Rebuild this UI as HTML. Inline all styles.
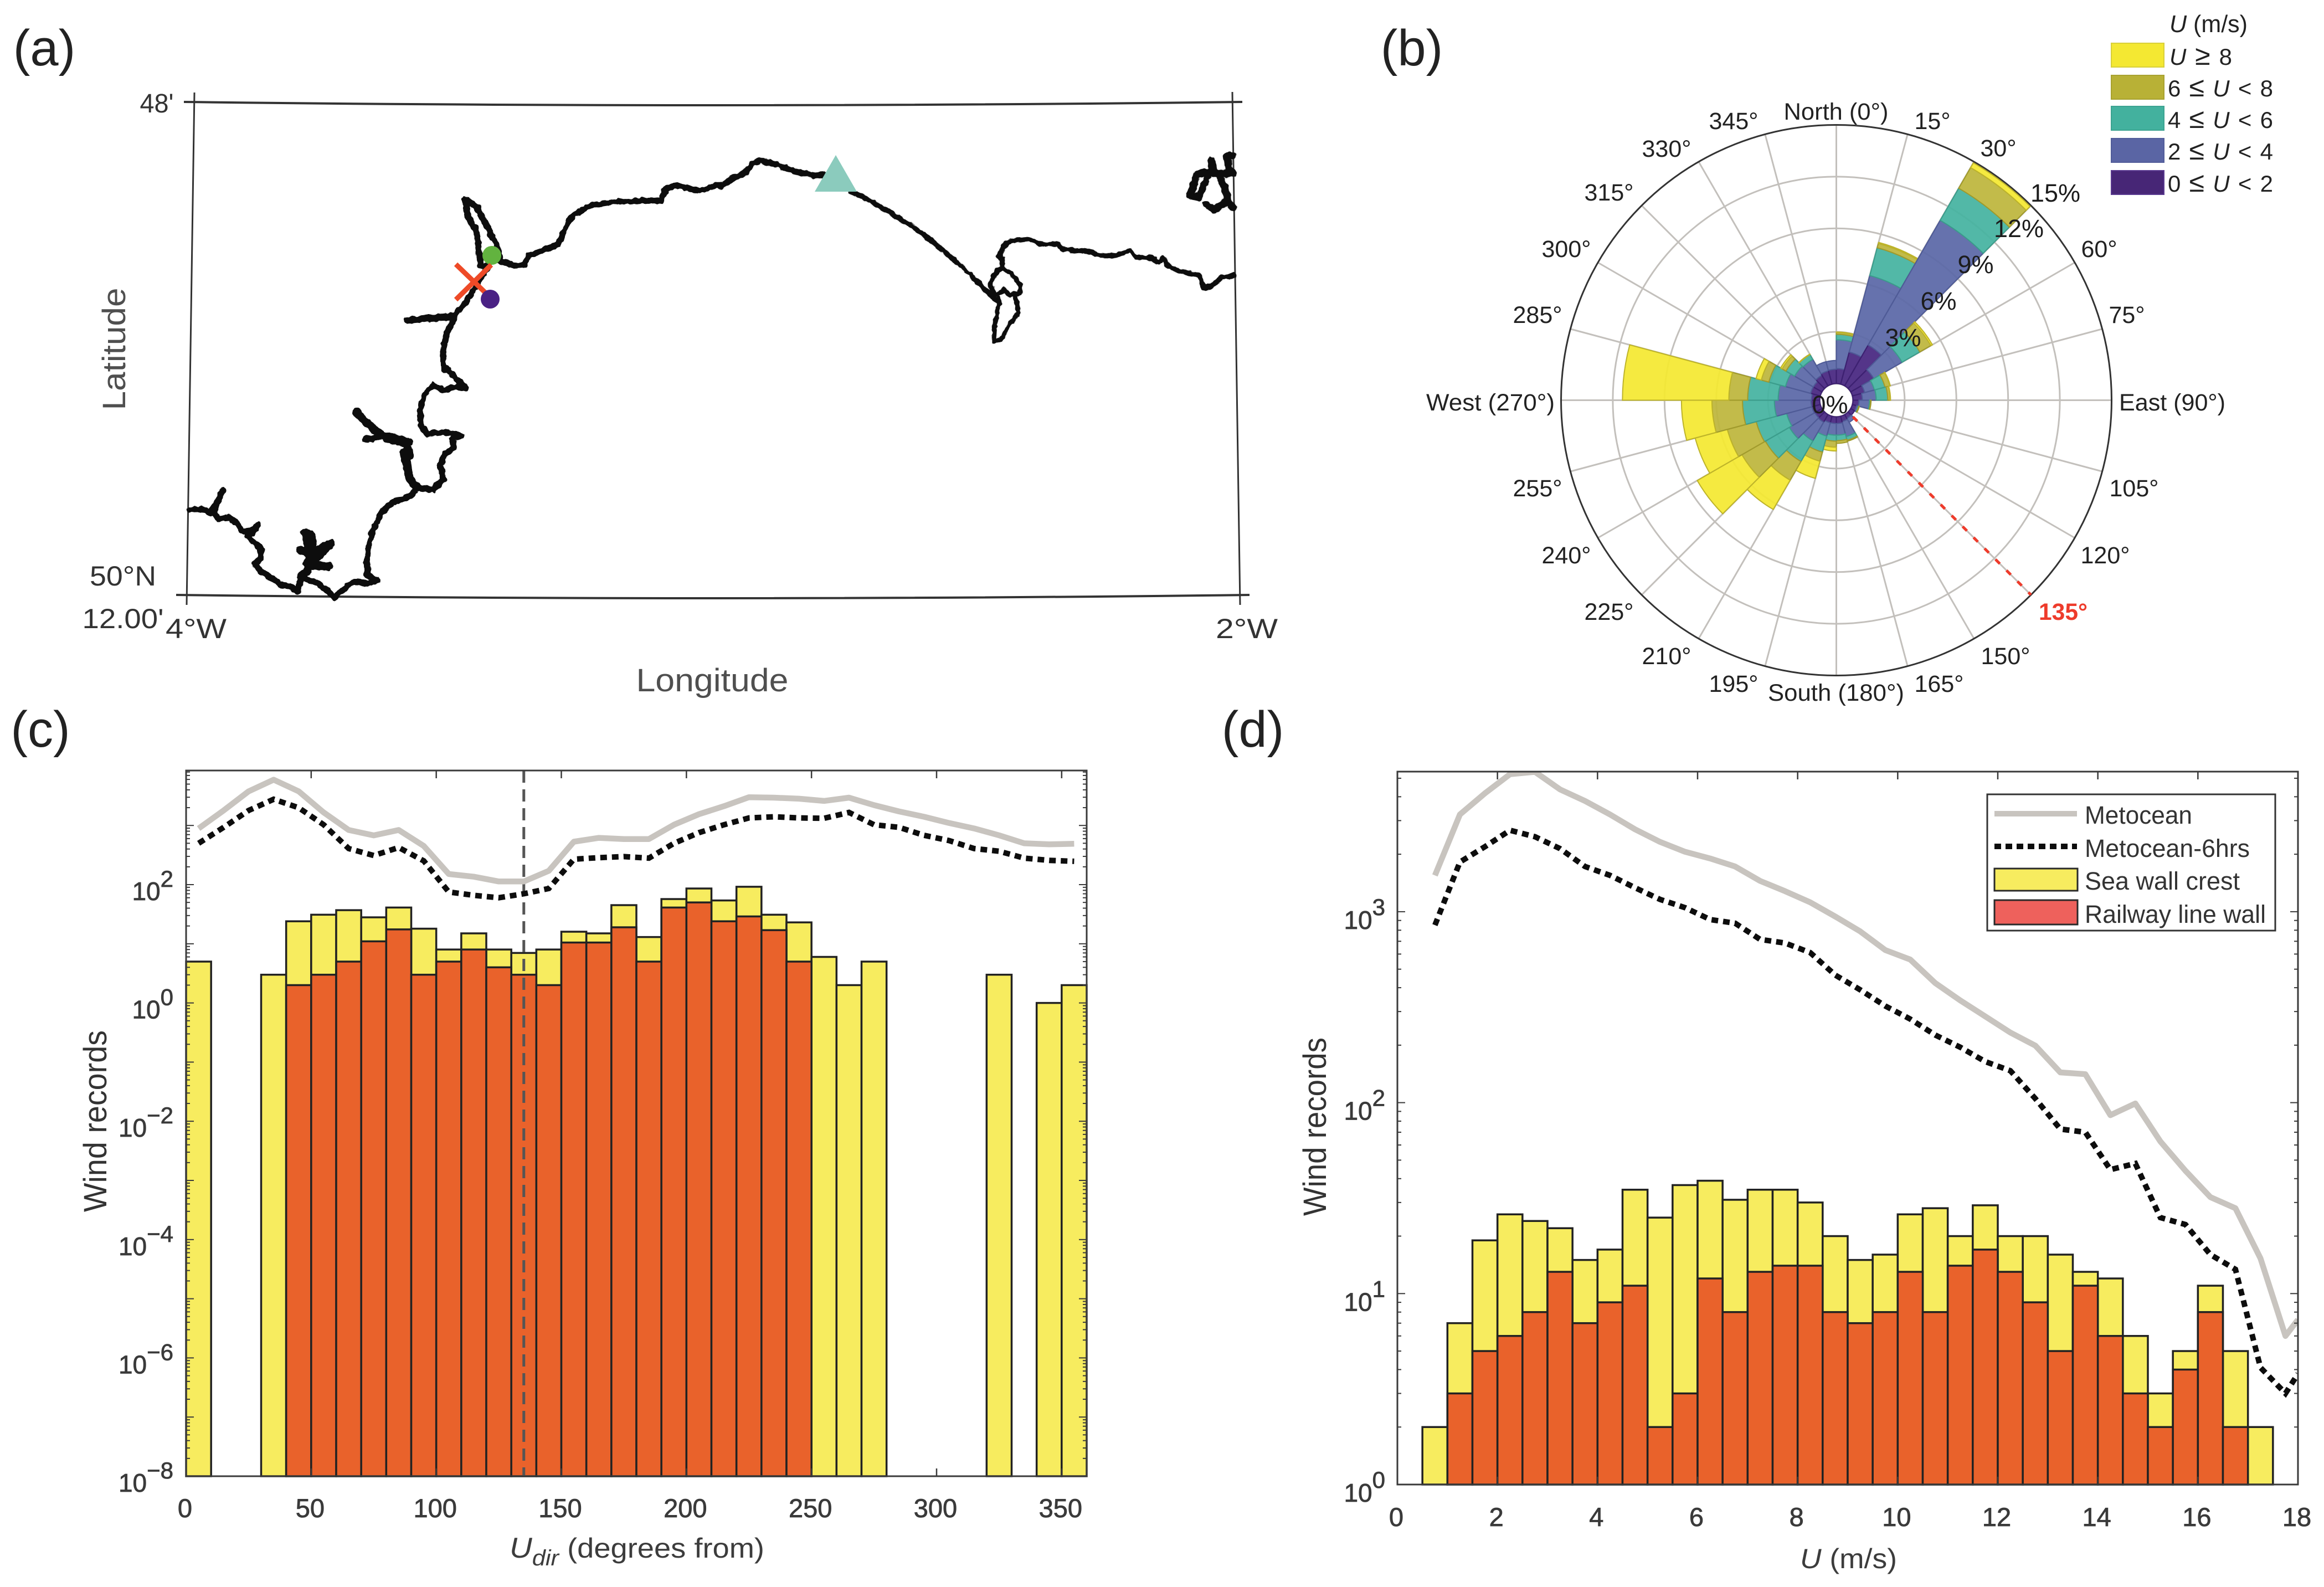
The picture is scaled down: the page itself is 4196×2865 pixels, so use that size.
<!DOCTYPE html>
<html lang="en">
<head>
<meta charset="utf-8">
<title>Wind records: map, wind rose and histograms</title>
<style>
html,body{margin:0;padding:0;background:#fff;}
svg{display:block;}
text{font-family:"Liberation Sans",Arial,sans-serif;}
</style>
</head>
<body>
<svg id="fig" xmlns="http://www.w3.org/2000/svg" width="4196" height="2865" viewBox="0 0 4196 2865">
<defs>
  <filter id="rough" filterUnits="userSpaceOnUse" x="0" y="0" width="4196" height="1200">
    <feTurbulence type="fractalNoise" baseFrequency="0.09" numOctaves="2" seed="4" result="n"/>
    <feDisplacementMap in="SourceGraphic" in2="n" scale="7" xChannelSelector="R" yChannelSelector="G"/>
  </filter>
</defs>
<rect x="0" y="0" width="4196" height="2865" fill="#fff"/>

<!-- panel letters -->
<text x="80" y="118" font-size="92" text-anchor="middle" fill="#222">(a)</text>
<text x="2549" y="118" font-size="92" text-anchor="middle" fill="#222">(b)</text>
<text x="73" y="1348" font-size="92" text-anchor="middle" fill="#222">(c)</text>
<text x="2262" y="1348" font-size="92" text-anchor="middle" fill="#222">(d)</text>

<!-- PANEL A: map -->
<g>
  <g fill="none" stroke="#333" stroke-width="3">
    <path d="M332 184 Q1290 196 2243 184" stroke-width="4"/>
    <path d="M318 1074 Q1290 1086 2256 1074" stroke-width="4"/>
    <path d="M351 167 L337 1092"/>
    <path d="M2225 166 L2239 1092"/>
  </g>
  <g filter="url(#rough)">
  <g transform="translate(300,150) scale(0.6378,0.606)" fill="none" stroke="#111" stroke-linejoin="round" stroke-linecap="round">
    <path vector-effect="non-scaling-stroke" stroke-width="11" d="M65 1272 L100 1270 L125 1280 L150 1240 L160 1212 L150 1240 L135 1280 L150 1298 L180 1295 L200 1312 L215 1335 L240 1332 L262 1315 L245 1340 L230 1345 L245 1365 L268 1385 L268 1415 L250 1432 L268 1455 L300 1475 L330 1497 L355 1500 L372 1515 L382 1470 L400 1478 L430 1490 L455 1510 L475 1532 L500 1510 L530 1485 L570 1490 L598 1483 L570 1465 L568 1430 L575 1370 L590 1320 L610 1280 L640 1248 L690 1232 L712 1205 L755 1212 L785 1180 L775 1140 L790 1105 L815 1085 L810 1060 L838 1050 L790 1040 L740 1045 L722 1025 L718 980 L730 930 L755 900 L785 915 L825 905 L850 910 L820 880 L800 855 L785 850 L783 800 L795 745 L820 690 L850 650 L880 600 L912 545 L890 545 L885 490 L878 440 L855 400 L845 345 L880 370 L905 420 L935 480 L945 530 L985 543 L1015 540 L1025 515 L1085 490 L1110 480 L1130 430 L1155 390 L1200 365 L1280 352 L1400 350 L1415 315 L1440 305 L1510 320 L1568 303"/>
    <path vector-effect="non-scaling-stroke" stroke-width="15" d="M712 1205 L690 1180 L680 1130 L672 1100 L690 1110 L680 1075 L630 1060 L600 1040 L570 1015 L538 980"/>
    <path vector-effect="non-scaling-stroke" stroke-width="13" d="M565 1062 L620 1050 L690 1070"/>
    <path vector-effect="non-scaling-stroke" stroke-width="16" d="M382 1470 L400 1450 L410 1400 L395 1340 L410 1345 L415 1400 L380 1390 L412 1405 L465 1372 L420 1420 L400 1435 L460 1440"/>
    <path vector-effect="non-scaling-stroke" stroke-width="13" d="M682 708 L750 700 L815 695"/>
  </g>
  <g transform="translate(1300,150) scale(0.6378,0.3827)" fill="none" stroke="#111" stroke-linejoin="round" stroke-linecap="round">
    <path vector-effect="non-scaling-stroke" stroke-width="11" d="M0 490 L30 455 L70 425 L95 375 L115 365 L160 385 L210 415 L250 430 L265 437 L295 432"/>
    <path vector-effect="non-scaling-stroke" stroke-width="9" d="M370 512 L420 550 L480 610 L540 670 L600 745 L650 815 L700 890 L745 965 L775 1010 L790 1040"/>
    <path vector-effect="non-scaling-stroke" stroke-width="8" d="M790 1015 L785 1080 L778 1150 L775 1215 L795 1215 L815 1150 L845 1080 L835 1010"/>
    <path vector-effect="non-scaling-stroke" stroke-width="9" d="M770 975 L765 940 L785 885 L800 870 L830 910 L850 950 L848 990 L820 1000 L805 975 L780 1000 L770 975"/>
    <path vector-effect="non-scaling-stroke" stroke-width="9" d="M800 870 L798 830 L790 820 L800 770 L825 745 L875 735 L905 760 L955 760 L975 785 L1040 795 L1085 815 L1115 815 L1160 790 L1180 820 L1225 825 L1240 845 L1255 825 L1270 865 L1305 890 L1355 905 L1370 965 L1390 960 L1420 915 L1455 908"/>
    <path vector-effect="non-scaling-stroke" stroke-width="13" d="M1452 340 L1435 345 L1440 400 L1452 420 M1390 365 L1395 400 L1415 440 L1430 500 L1440 560 L1452 590 M1385 420 L1350 430 L1330 530 L1355 540 L1380 440 M1375 570 L1400 600 L1430 560 M1400 430 L1452 425"/>
  </g>
  </g>
  <circle cx="888" cy="461" r="17" fill="#62b33f"/>
  <path d="M823 477 L878 530 M823 541 L887 478" stroke="#ee4a27" stroke-width="9" fill="none"/>
  <circle cx="885" cy="540" r="17" fill="#4a2184"/>
  <polygon points="1509,280 1471,346 1547,346" fill="#8bcbbd"/>
  <text x="283" y="203" font-size="48" text-anchor="middle" textLength="61" lengthAdjust="spacingAndGlyphs" fill="#333">48'</text>
  <text x="222" y="1057" font-size="50" text-anchor="middle" textLength="120" lengthAdjust="spacingAndGlyphs" fill="#333">50°N</text>
  <text x="222" y="1134" font-size="50" text-anchor="middle" textLength="147" lengthAdjust="spacingAndGlyphs" fill="#333">12.00'</text>
  <text x="354" y="1152" font-size="50" text-anchor="middle" textLength="110" lengthAdjust="spacingAndGlyphs" fill="#333">4°W</text>
  <text x="2251" y="1152" font-size="50" text-anchor="middle" textLength="112" lengthAdjust="spacingAndGlyphs" fill="#333">2°W</text>
  <text x="1286" y="1248" font-size="58" text-anchor="middle" textLength="275" lengthAdjust="spacingAndGlyphs" fill="#4f4f4f">Longitude</text>
  <text transform="translate(226,630) rotate(-90)" font-size="58" text-anchor="middle" textLength="221" lengthAdjust="spacingAndGlyphs" fill="#4f4f4f">Latitude</text>
</g>

<!-- PANEL B: wind rose -->
<g>
  <g id="roseGrid"></g>
  <g id="roseBars"></g>
  <line id="roseRef" stroke="#ee3b2b" stroke-width="5" stroke-dasharray="11 17"/>
  <g font-size="43" text-anchor="middle" fill="#222">
    <text x="3315" y="216" textLength="189" lengthAdjust="spacingAndGlyphs">North (0°)</text>
    <text x="3489" y="233">15°</text>
    <text x="3608" y="282">30°</text>
    <text x="3790" y="464">60°</text>
    <text x="3840" y="583">75°</text>
    <text x="3922" y="741" textLength="192" lengthAdjust="spacingAndGlyphs">East (90°)</text>
    <text x="3853" y="896">105°</text>
    <text x="3801" y="1017">120°</text>
    <text x="3725" y="1119" fill="#ee3b2b" font-weight="bold" textLength="88" lengthAdjust="spacingAndGlyphs">135°</text>
    <text x="3621" y="1199">150°</text>
    <text x="3501" y="1249">165°</text>
    <text x="3315" y="1265" textLength="246" lengthAdjust="spacingAndGlyphs">South (180°)</text>
    <text x="3130" y="1249">195°</text>
    <text x="3009" y="1199">210°</text>
    <text x="2905" y="1119">225°</text>
    <text x="2828" y="1017">240°</text>
    <text x="2776" y="896">255°</text>
    <text x="2691" y="741" textLength="232" lengthAdjust="spacingAndGlyphs">West (270°)</text>
    <text x="2776" y="583">285°</text>
    <text x="2828" y="464">300°</text>
    <text x="2905" y="362">315°</text>
    <text x="3009" y="283">330°</text>
    <text x="3130" y="233">345°</text>
  </g>
  <g font-size="45" text-anchor="middle" fill="#1c1c1c">
    <text x="3304" y="746">0%</text>
    <text x="3436" y="625">3%</text>
    <text x="3500" y="559">6%</text>
    <text x="3567" y="493">9%</text>
    <text x="3645" y="428">12%</text>
    <text x="3711" y="364">15%</text>
  </g>
  <g font-size="42" fill="#222">
    <text x="3917" y="58" textLength="141" lengthAdjust="spacingAndGlyphs" font-size="44"><tspan font-style="italic">U</tspan> (m/s)</text>
    <rect x="3812" y="78" width="95" height="43" fill="#f4e832" stroke="#d8cf3a" stroke-width="2"/>
    <text x="3917" y="117" textLength="113" lengthAdjust="spacing"><tspan font-style="italic">U</tspan> <tspan font-size="50">≥</tspan> 8</text>
    <rect x="3812" y="136" width="95" height="43" fill="#b8b136" stroke="#a8a230" stroke-width="2"/>
    <text x="3914" y="174" textLength="190" lengthAdjust="spacing">6 <tspan font-size="50">≤</tspan> <tspan font-style="italic">U</tspan> &lt; 8</text>
    <rect x="3812" y="192" width="95" height="43" fill="#43b19e" stroke="#3ca391" stroke-width="2"/>
    <text x="3914" y="231" textLength="190" lengthAdjust="spacing">4 <tspan font-size="50">≤</tspan> <tspan font-style="italic">U</tspan> &lt; 6</text>
    <rect x="3812" y="250" width="95" height="43" fill="#5a65a4" stroke="#525d9a" stroke-width="2"/>
    <text x="3914" y="288" textLength="190" lengthAdjust="spacing">2 <tspan font-size="50">≤</tspan> <tspan font-style="italic">U</tspan> &lt; 4</text>
    <rect x="3812" y="308" width="95" height="43" fill="#472676" stroke="#5a3a90" stroke-width="2"/>
    <text x="3914" y="346" textLength="190" lengthAdjust="spacing">0 <tspan font-size="50">≤</tspan> <tspan font-style="italic">U</tspan> &lt; 2</text>
  </g>
</g>

<!-- PANEL C -->
<g>
  <g id="cBars"></g>
  <line id="cRef" stroke="#555" stroke-width="5" stroke-dasharray="22 12"/>
  <path id="cGray" fill="none" stroke="#c8c4bf" stroke-width="10.5" stroke-linejoin="round"/>
  <path id="cBlack" fill="none" stroke="#0d0d0d" stroke-width="10" stroke-dasharray="12 9"/>
  <g id="cAxes"></g>
  <text transform="translate(192,2024) rotate(-90)" font-size="58" text-anchor="middle" textLength="328" lengthAdjust="spacingAndGlyphs" fill="#333">Wind records</text>
  <text x="920" y="2812" font-size="50" fill="#3c3c3c" textLength="460" lengthAdjust="spacingAndGlyphs"><tspan font-style="italic" font-size="52">U</tspan><tspan font-style="italic" font-size="40" dy="14">dir</tspan><tspan dy="-14"> (degrees from)</tspan></text>
</g>

<!-- PANEL D -->
<g>
  <clipPath id="dClip"><rect x="2523" y="1393" width="1626" height="1287"/></clipPath>
  <g id="dBars"></g>
  <g clip-path="url(#dClip)">
    <path id="dGray" fill="none" stroke="#c8c4bf" stroke-width="10.5" stroke-linejoin="round"/>
    <path id="dBlack" fill="none" stroke="#0d0d0d" stroke-width="10" stroke-dasharray="12 9"/>
  </g>
  <g id="dAxes"></g>
  <text transform="translate(2394,2034) rotate(-90)" font-size="58" text-anchor="middle" textLength="322" lengthAdjust="spacingAndGlyphs" fill="#333">Wind records</text>
  <text x="3250" y="2831" font-size="50" fill="#3c3c3c" textLength="175" lengthAdjust="spacingAndGlyphs"><tspan font-style="italic">U</tspan> (m/s)</text>
  <g>
    <rect x="3588" y="1434" width="520" height="246" fill="#fff" stroke="#333" stroke-width="3"/>
    <line x1="3601" x2="3750" y1="1469" y2="1469" stroke="#c8c4bf" stroke-width="10"/>
    <line x1="3601" x2="3750" y1="1528" y2="1528" stroke="#0d0d0d" stroke-width="10" stroke-dasharray="12 8"/>
    <rect x="3601" y="1568" width="150" height="40" fill="#f7ec5f" stroke="#2a2a2a" stroke-width="3"/>
    <rect x="3601" y="1625" width="150" height="44" fill="#ee615c" stroke="#2a2a2a" stroke-width="3"/>
    <g font-size="45" fill="#333" lengthAdjust="spacingAndGlyphs">
      <text x="3764" y="1487" textLength="194" lengthAdjust="spacingAndGlyphs">Metocean</text>
      <text x="3764" y="1547" textLength="298" lengthAdjust="spacingAndGlyphs">Metocean-6hrs</text>
      <text x="3764" y="1606" textLength="280" lengthAdjust="spacingAndGlyphs">Sea wall crest</text>
      <text x="3764" y="1666" textLength="327" lengthAdjust="spacingAndGlyphs">Railway line wall</text>
    </g>
  </g>
</g>
</svg>

<script>
// ---------- Panel (b) wind rose data: share (%) of records per 15-degree sector, by speed class ----------
const roseClass0to2 = [0.87,1.93,2.73,1.54,0.74,0.55,0.35,0.26,0.26,0.26,0.32,0.39,0.39,0.39,0.51,0.48,0.51,0.51,0.48,0.58,0.58,0.71,0.80,0.83];
const roseClass2to4 = [1.67,4.59,8.35,1.90,0.58,0.80,0.61,0.10,0,0.26,0.90,0.67,0.67,0.80,1.25,1.70,1.51,2.12,1.93,1.51,1.25,1.06,0.55,0.51];
const roseClass4to6 = [0.32,1.67,2.15,1.19,0.64,0.67,0.06,0.03,0,0,0.22,0.32,0.35,0.96,1.38,1.61,1.83,1.85,1.77,1.00,0.58,0.32,0,0];
const roseClass6to8 = [0.10,0.26,1.38,0.74,0.29,0.13,0.03,0.03,0,0,0.06,0.16,0.35,0.55,1.25,1.57,1.73,1.77,1.09,0.45,0.26,0,0,0];
const roseClass8up  = [0.03,0.06,0.32,0.10,0.03,0.03,0,0,0,0,0,0,0.22,1.03,1.96,2.99,1.93,1.77,6.17,0.32,0.10,0.03,0,0];
const roseRings = [0,3,6,9,12,15];
const roseRefAngle = 135;

// ---------- Panel (c) direction histogram data (10-degree bins from 0) ----------
const dirSeaWall = [5,0,0,3,24,31,37,28,41,18,8,15,8,7,8,16,15,45,13,57,86,54,92,31,23,6,2,5,0,0,0,0,3,0,1,2];
const dirRailway = [0,0,0,0,2,3,5,11,17.5,3,5,8,4,3,2,10.5,10.5,19,5,41,50,24,29,17,5,0,0,0,0,0,0,0,0,0,0,0];
const dirCenters = [5,15,25,35,45,55,65,75,85,95,105,115,125,135,145,155,165,175,185,195,205,215,225,235,245,255,265,275,285,295,305,315,325,335,345,355];
const dirMetocean = [891,1795,3776,5940,3776,1660,838,680,838,450,151,136,113,113,171,532,617,590,590,1028,1550,2118,3005,2950,2830,2600,2950,2207,1726,1403,1100,891,681,500,480,490];
const dirMetocean6h = [500,929,1795,2775,1993,1028,407,310,424,252,75,66,60,70,86,269,286,298,280,500,755,1028,1340,1403,1340,1320,1660,1028,929,681,555,407,367,280,257,248];
const dirXTicks = [0,50,100,150,200,250,300,350];
const dirYExponents = [2,0,-2,-4,-6,-8];
const dirRefValue = 135;

// ---------- Panel (d) speed histogram data (0.5 m/s bins from 0) ----------
const spdSeaWall = [0,2,7,19,26,24,22,15,17,35,25,37,39,31,35,35,30,20,15,16,26,28,20,29,20,20,16,13,12,6,3,5,11,5,2,0];
const spdRailway = [0,0,3,5,6,8,13,7,9,11,2,3,12,8,13,14,14,8,7,8,13,8,14,17,13,9,5,11,6,3,2,4,8,2,0,0];
const spdCenters = [0.75,1.25,1.75,2.25,2.75,3.25,3.75,4.25,4.75,5.25,5.75,6.25,6.75,7.25,7.75,8.25,8.75,9.25,9.75,10.25,10.75,11.25,11.75,12.25,12.75,13.25,13.75,14.25,14.75,15.25,15.75,16.25,16.75,17.25,17.75,18];
const spdMetocean = [1549,3230,4170,5250,5400,4370,3800,3230,2700,2320,2060,1900,1725,1450,1280,1120,944,789,630,562,423,343,283,233,199,144,141,86,99,62.6,44,32,28,15.3,6,7.3];
const spdMetocean6h = [851,1820,2190,2670,2470,2140,1725,1550,1335,1160,1050,910,870,716,685,611,466,390,321,274,226,195,164,147,105,72.7,70,44.6,48,25,23,16,13.4,4.1,3,3.8];
const spdXTicks = [0,2,4,6,8,10,12,14,16,18];
const spdYExponents = [0,1,2,3];

const NS = 'http://www.w3.org/2000/svg';
function mk(parent, tag, attrs, txt) {
  const el = document.createElementNS(NS, tag);
  for (const k in attrs) el.setAttribute(k, attrs[k]);
  if (txt !== undefined) el.textContent = txt;
  parent.appendChild(el);
  return el;
}
const $ = id => document.getElementById(id);

// ---------- Wind rose ----------
const roseCx = 3315.5, roseCy = 722.5, roseOuter = 497;
const roseR = p => 30 + (roseOuter - 30) / 15 * p;
const polar = (r, deg) => [roseCx + r * Math.sin(deg * Math.PI / 180), roseCy - r * Math.cos(deg * Math.PI / 180)];
(function drawRose() {
  const grid = $('roseGrid');
  for (let a = 0; a < 360; a += 15) {
    const p0 = polar(roseR(0), a), p1 = polar(roseOuter, a);
    const sp = mk(grid, 'line', {x1: p0[0], y1: p0[1], x2: p1[0], y2: p1[1], stroke: '#c3c0bc', 'stroke-width': 3});
    
    
  }
  roseRings.forEach(function (p) {
    const c = mk(grid, 'circle', {cx: roseCx, cy: roseCy, r: roseR(p), fill: 'none', stroke: p === 15 ? '#333' : '#c3c0bc', 'stroke-width': 3});
    
    
  });
  const classes = [
    {v: roseClass0to2, c: '#472680', e: '#3c2070', n: 'rose-sector-u0-2'},
    {v: roseClass2to4, c: '#5a67a7', e: '#4e5a96', n: 'rose-sector-u2-4'},
    {v: roseClass4to6, c: '#45b3a0', e: '#3b9c8b', n: 'rose-sector-u4-6'},
    {v: roseClass6to8, c: '#bdb63c', e: '#a09a2c', n: 'rose-sector-u6-8'},
    {v: roseClass8up,  c: '#f4e832', e: '#bdb32a', n: 'rose-sector-u8plus'}
  ];
  const bars = $('roseBars');
  for (let s = 0; s < 24; s++) {
    let cum = 0;
    const a0 = s * 15, a1 = a0 + 15;
    classes.forEach(function (cl) {
      const w = cl.v[s];
      if (w > 0) {
        const r0 = roseR(cum), r1 = roseR(cum + w);
        const A = polar(r0, a0), B = polar(r1, a0), C = polar(r1, a1), D = polar(r0, a1);
        const d = 'M' + A + ' L' + B + ' A' + r1 + ' ' + r1 + ' 0 0 1 ' + C + ' L' + D + ' A' + r0 + ' ' + r0 + ' 0 0 0 ' + A + ' Z';
        const sec = mk(bars, 'path', {d: d, fill: cl.c, stroke: cl.e, 'stroke-width': 2, 'fill-opacity': 0.93});
        
        
      }
      cum += w;
    });
  }
  const rr0 = polar(roseR(0.4), roseRefAngle), rr1 = polar(roseOuter, roseRefAngle);
  const ref = $('roseRef');
  ref.setAttribute('x1', rr0[0]); ref.setAttribute('y1', rr0[1]);
  ref.setAttribute('x2', rr1[0]); ref.setAttribute('y2', rr1[1]);
})();

// ---------- Shared chart helpers ----------
function linePath(xs, ys, fx, fy) {
  return xs.map(function (x, i) { return (i ? 'L' : 'M') + fx(x).toFixed(1) + ' ' + fy(ys[i]).toFixed(1); }).join(' ');
}
function drawBars(parent, values, binW, fx, fy, base, fill, name) {
  values.forEach(function (v, i) {
    if (v <= 0) return;
    const x0 = fx(i * binW), x1 = fx((i + 1) * binW), y = fy(v);
    const r = mk(parent, 'rect', {x: x0, y: y, width: x1 - x0, height: base - y, fill: fill, stroke: '#222', 'stroke-width': 3.5});
    
    
  });
}
function logLabel(parent, x, tickY, exp, dyBase, dySup) {
  const t = mk(parent, 'text', {x: x, y: tickY + dyBase, 'text-anchor': 'end', 'font-size': 46, fill: '#3a3a3a', stroke: '#3a3a3a', 'stroke-width': 0.8});
  
  
  mk(t, 'tspan', {}, '10');
  mk(t, 'tspan', {dy: dySup - dyBase, 'font-size': 42}, String(exp).replace('-', '\u2212'));
}
function drawAxes(g, L, T, R, B, xTicks, fx, fy, expMin, expMax, majorExps, topLog, dyBase, dySup, labelRight, xLabelY) {
  const box = mk(g, 'rect', {x: L, y: T, width: R - L, height: B - T, fill: 'none', stroke: '#3a3a3a', 'stroke-width': 3});
  
  
  xTicks.forEach(function (v) {
    const x = fx(v);
    const t1 = mk(g, 'line', {x1: x, x2: x, y1: T, y2: T + 14, stroke: '#3a3a3a', 'stroke-width': 2.5});
    
    
    const t2 = mk(g, 'line', {x1: x, x2: x, y1: B, y2: B - 14, stroke: '#3a3a3a', 'stroke-width': 2.5});
    
    
    const lab = mk(g, 'text', {x: x - 2, y: xLabelY, 'text-anchor': 'middle', 'font-size': 47, fill: '#3a3a3a', stroke: '#3a3a3a', 'stroke-width': 0.8}, String(v));
    
    
  });
  for (let e = expMin; e <= expMax; e++) {
    for (let m = 1; m <= 9; m++) {
      const v = m * Math.pow(10, e);
      const y = fy(v);
      if (y < T) continue;
      const len = (m === 1) ? 14 : 7;
      [[L, L + len], [R, R - len]].forEach(function (p) {
        const tk = mk(g, 'line', {x1: p[0], x2: p[1], y1: y, y2: y, stroke: '#3a3a3a', 'stroke-width': 2});
        
        
      });
    }
  }
  majorExps.forEach(function (e) {
    logLabel(g, labelRight, fy(Math.pow(10, e)), e, dyBase, dySup);
  });
}

// ---------- Panel (c) ----------
const xC = v => 336 + (1962 - 336) / 360 * v;
const yC = v => 2665 - 106.8 * (Math.log10(v) + 8);
(function drawC() {
  drawBars($('cBars'), dirSeaWall, 10, xC, yC, 2665, '#f7ec5f', 'direction-bar-sea-wall');
  drawBars($('cBars'), dirRailway, 10, xC, yC, 2665, '#e9622b', 'direction-bar-railway');
  const ref = $('cRef');
  ref.setAttribute('x1', xC(dirRefValue)); ref.setAttribute('x2', xC(dirRefValue));
  ref.setAttribute('y1', 1391); ref.setAttribute('y2', 2665);
  $('cGray').setAttribute('d', linePath(dirCenters, dirMetocean, xC, yC));
  $('cBlack').setAttribute('d', linePath(dirCenters, dirMetocean6h, xC, yC));
  drawAxes($('cAxes'), 336, 1391, 1962, 2665, dirXTicks, xC, yC, -8, 3, dirYExponents, true, 28, 4, 313, 2739);
})();

// ---------- Panel (d) ----------
const xD = v => 2523 + (4149 - 2523) / 18 * v;
const yD = v => 2680 - 344.7 * Math.log10(v);
(function drawD() {
  drawBars($('dBars'), spdSeaWall, 0.5, xD, yD, 2680, '#f7ec5f', 'speed-bar-sea-wall');
  drawBars($('dBars'), spdRailway, 0.5, xD, yD, 2680, '#e9622b', 'speed-bar-railway');
  $('dGray').setAttribute('d', linePath(spdCenters, spdMetocean, xD, yD));
  $('dBlack').setAttribute('d', linePath(spdCenters, spdMetocean6h, xD, yD));
  drawAxes($('dAxes'), 2523, 1393, 4149, 2680, spdXTicks, xD, yD, 0, 3, spdYExponents, true, 31, 6, 2501, 2755);
})();
</script>
</body>
</html>
